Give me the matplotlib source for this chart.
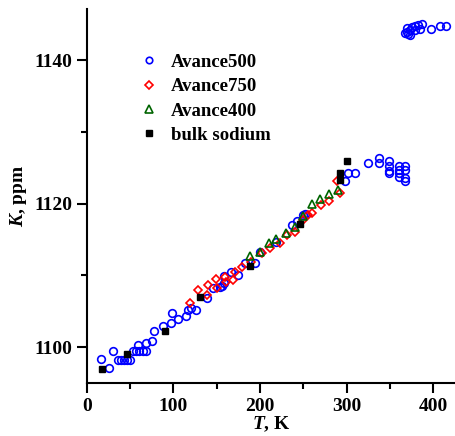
import matplotlib
matplotlib.use("Agg")
import matplotlib.pyplot as plt

plt.rcParams['font.family'] = ['Liberation Serif', 'DejaVu Serif']
plt.rcParams['font.weight'] = 'bold'
plt.rcParams['mathtext.fontset'] = 'custom'
plt.rcParams['mathtext.it'] = 'Liberation Serif:bold:italic'
plt.rcParams['mathtext.rm'] = 'Liberation Serif:bold'

# Avance500 (blue open circles)
a500_T = [16.5, 26, 31, 36, 40, 43, 47, 50, 53, 57, 61, 65, 68, 59, 69, 75, 78, 88, 97, 98.5,
          106, 115, 117, 120, 126, 139, 146, 154, 156, 158, 158.5, 167, 175, 183, 194, 200,
          219, 237, 242.5, 250, 252, 298, 302, 310, 325, 337, 337.5, 349, 349, 349, 349,
          361, 361, 361, 361, 367, 367, 367, 367,
          367.6, 369.5, 369.5, 371.4, 373.3, 373.3, 375.3, 379, 379, 383, 385, 387, 397, 408, 415]
a500_K = [1098.3, 1097.1, 1099.4, 1098.2, 1098.2, 1098.2, 1098.2, 1098.2, 1099.4, 1099.4, 1099.4,
          1099.4, 1099.4, 1100.3, 1100.6, 1100.9, 1102.2, 1102.9, 1103.3, 1104.8,
          1103.9, 1104.3, 1105.2, 1105.4, 1105.2, 1106.9, 1108.2, 1108.4, 1108.5, 1108.9, 1109.9,
          1110.5, 1110.1, 1111.7, 1111.7, 1113.3,
          1114.7, 1117.0, 1117.5, 1118.4, 1118.6, 1123.1, 1124.2, 1124.2, 1125.7, 1126.4, 1125.6,
          1125.9, 1125.2, 1124.6, 1124.2,
          1125.3, 1124.7, 1124.2, 1123.7, 1125.3, 1124.7, 1123.1, 1123.5,
          1143.7, 1143.9, 1144.4, 1143.6, 1144.2, 1143.5, 1144.6, 1144.7, 1144.2, 1144.9, 1144.3,
          1145.0, 1144.3, 1144.7, 1144.7]

# Avance750 (red open diamonds)
a750_T = [119, 129, 139, 140, 149, 151, 160, 160.5, 169, 171, 179, 190, 202, 212, 223, 231,
          240.5, 250, 256, 260, 270, 280, 289, 292.5]
a750_K = [1106.2, 1107.9, 1107.3, 1108.7, 1109.5, 1108.3, 1109.8, 1109.1, 1109.4, 1110.5, 1111.2,
          1111.9, 1113.1, 1113.8, 1114.5, 1115.6, 1116.1, 1117.7, 1118.4, 1118.7, 1119.8, 1120.4,
          1123.1, 1121.5]

# Avance400 (green open triangles)
a400_T = [188.6, 200, 210, 219, 230, 240.5, 249.5, 260, 269.5, 280, 290.5]
a400_K = [1112.7, 1113.3, 1114.5, 1115.0, 1115.9, 1116.8, 1118.2, 1119.9, 1120.6, 1121.4, 1121.9]

# bulk sodium (black filled squares)
bulk_T = [18, 47, 90, 131, 189, 246, 292, 293, 301]
bulk_K = [1096.9, 1099.1, 1102.3, 1107.0, 1111.3, 1117.2, 1123.3, 1124.2, 1125.9]

fig = plt.figure(figsize=(4.56, 4.36), dpi=100)
ax = fig.add_axes([0.19, 0.1216, 0.808, 0.857])

ax.plot(a500_T, a500_K, 'o', mfc='none', mec='#0000ff', mew=1.2, ms=5.5, ls='none', label='Avance500')
ax.plot(a750_T, a750_K, 'D', mfc='none', mec='#ff0000', mew=1.2, ms=4.5, ls='none', label='Avance750')
ax.plot(a400_T, a400_K, '^', mfc='none', mec='#006400', mew=1.2, ms=6, ls='none', label='Avance400')
ax.plot(bulk_T, bulk_K, 's', mfc='black', mec='black', ms=5, ls='none', label='bulk sodium')

ax.set_xlim(0, 425.3)
ax.set_ylim(1095, 1147.06)
ax.set_xticks([0, 100, 200, 300, 400])
ax.set_xticks([50, 150, 250, 350], minor=True)
ax.set_yticks([1100, 1120, 1140])
ax.set_yticks([1110, 1130], minor=True)

for s in ['top', 'right']:
    ax.spines[s].set_visible(False)
for s in ['left', 'bottom']:
    ax.spines[s].set_linewidth(1.5)
ax.tick_params(which='major', direction='out', length=7, width=1.5, labelsize=14)
ax.tick_params(which='minor', direction='out', length=4, width=1.5)
for lab in ax.get_xticklabels() + ax.get_yticklabels():
    lab.set_fontweight('bold')

ax.set_xlabel(r'$T$, K', fontsize=14, fontweight='bold', labelpad=0)
ax.set_ylabel(r'$K$, ppm', fontsize=14, fontweight='bold', labelpad=4)

leg = ax.legend(loc='upper left', bbox_to_anchor=(0.299, 0.885), bbox_transform=fig.transFigure,
                frameon=False, fontsize=13.5, handlelength=1.0, handletextpad=0.65,
                labelspacing=0.38, borderpad=0.2, borderaxespad=0, markerscale=0.85)
for t in leg.get_texts():
    t.set_fontweight('bold')

fig.savefig('out.png', dpi=100)
